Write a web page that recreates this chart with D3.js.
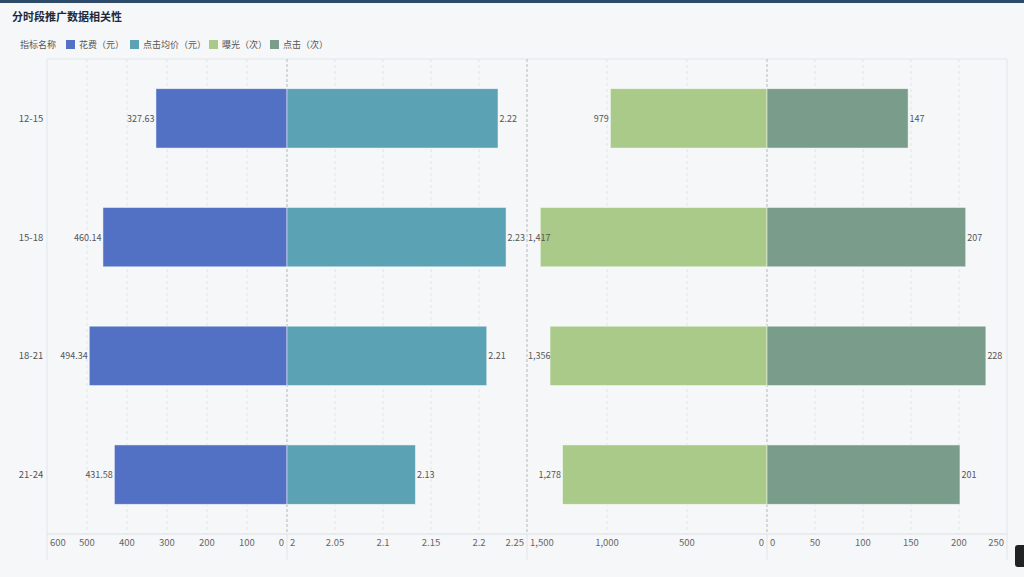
<!DOCTYPE html>
<html><head><meta charset="utf-8">
<script src="https://cdn.jsdelivr.net/npm/d3@7/dist/d3.min.js"></script>
<style>
html,body{margin:0;padding:0;background:#f6f7f9;}
svg{display:block;font-family:"Noto Sans CJK SC","Noto Sans",sans-serif;}
</style></head>
<body><svg id="c" width="1024" height="577"></svg>
<script>
const categories = ["12-15","15-18","18-21","21-24"];
const spend = [327.63, 460.14, 494.34, 431.58];
const avgPrice = [2.2198, 2.2282, 2.2081, 2.1338];
const exposure = [979, 1417, 1356, 1278];
const clicks = [147, 207, 228, 201];
const seriesNames = ["花费（元）","点击均价（元）","曝光（次）","点击（次）"];
const colors = ["#5271c4","#5ba2b4","#a9ca88","#7a9d8b"];
const spendTicks = [600,500,400,300,200,100,0];
const priceTicks = [2,2.05,2.1,2.15,2.2,2.25];
const expTicks = [1500,1000,500,0];
const clickTicks = [0,50,100,150,200,250];

(function(){
const svg = d3.select("#c");
svg.append("rect").attr("x",0).attr("y",0).attr("width",1024).attr("height",3).attr("fill","#2e4b69");
svg.append("text").attr("x",12).attr("y",21).attr("font-size",11).attr("font-weight","bold").attr("fill","#1c2a3a").text("分时段推广数据相关性");

const lg = svg.append("g");
lg.append("text").attr("x",20).attr("y",48).attr("font-size",9).attr("fill","#555").text("指标名称");
const legX = [66,130,209,270];
seriesNames.forEach((n,i)=>{
  lg.append("rect").attr("x",legX[i]).attr("y",40).attr("width",9).attr("height",9).attr("fill",colors[i]);
  lg.append("text").attr("x",legX[i]+13).attr("y",48).attr("font-size",9).attr("fill","#555").text(n);
});

const plotTop = 59, plotBottom = 534;
const y = d3.scaleBand().domain(categories).range([plotTop,plotBottom]).paddingInner(0.5).paddingOuter(0.25);

const panels = [
  {data:spend, x:d3.scaleLinear().domain([600,0]).range([47,287]), ticks:spendTicks, fmt:d=>d3.format(".2f")(d), tfmt:d=>d, color:colors[0], base:0},
  {data:avgPrice, x:d3.scaleLinear().domain([2,2.25]).range([287,527]), ticks:priceTicks, fmt:d=>d3.format(".2f")(d), tfmt:d=>d, color:colors[1], base:2},
  {data:exposure, x:d3.scaleLinear().domain([1500,0]).range([527,767]), ticks:expTicks, fmt:d=>d3.format(",")(d), tfmt:d=>d3.format(",")(d), color:colors[2], base:0},
  {data:clicks, x:d3.scaleLinear().domain([0,250]).range([767,1007]), ticks:clickTicks, fmt:d=>d, tfmt:d=>d, color:colors[3], base:0}
];

svg.append("line").attr("x1",47).attr("x2",1007).attr("y1",plotTop).attr("y2",plotTop).attr("stroke","#e3e6ea");
svg.append("line").attr("x1",1007).attr("x2",1007).attr("y1",plotTop).attr("y2",560).attr("stroke","#e3e6ea");
svg.append("line").attr("x1",47).attr("x2",47).attr("y1",plotTop).attr("y2",560).attr("stroke","#e3e6ea");

panels.forEach(p=>{
  p.ticks.forEach(t=>{
    const xx = p.x(t);
    if (Math.abs(xx-47)<1 || Math.abs(xx-1007)<1) return;
    if ([287,527,767].some(s=>Math.abs(s-xx)<1)) return;
    svg.append("line").attr("x1",xx).attr("x2",xx).attr("y1",plotTop).attr("y2",plotBottom)
      .attr("stroke","#e2e4e8").attr("stroke-dasharray","3,3");
  });
});
[287,527,767].forEach(s=>{
  svg.append("line").attr("x1",s).attr("x2",s).attr("y1",plotTop).attr("y2",plotBottom)
    .attr("stroke","#b5b8bd").attr("stroke-dasharray","3,2");
  svg.append("line").attr("x1",s).attr("x2",s).attr("y1",plotBottom).attr("y2",560).attr("stroke","#e3e6ea");
});
svg.append("line").attr("x1",47).attr("x2",1007).attr("y1",plotBottom).attr("y2",plotBottom).attr("stroke","#dcdfe3");

const barLayer = svg.append("g"), labelLayer = svg.append("g");
panels.forEach(p=>{
  const b0 = p.x(p.base);
  const r = p.x.range();
  const lo = Math.min(...r), hi = Math.max(...r);
  categories.forEach((c,i)=>{
    const v = p.data[i], xv = p.x(v);
    barLayer.append("rect").attr("x",Math.min(b0,xv)).attr("y",y(c)).attr("width",Math.abs(xv-b0)).attr("height",y.bandwidth())
      .attr("fill",p.color).attr("stroke","rgba(255,255,255,0.6)").attr("stroke-width",0.8);
    const left = xv < b0;
    const t = labelLayer.append("text").attr("x", left ? xv-1.5 : xv+1.5).attr("y", y(c)+y.bandwidth()/2+3.5)
      .attr("text-anchor", left ? "end":"start").attr("font-size",9).attr("fill","#555").text(p.fmt(v));
    const w = t.node().getComputedTextLength();
    if (left && xv-1.5-w < lo+1) t.attr("text-anchor","start").attr("x", lo+1);
    if (!left && xv+1.5+w > hi) t.attr("text-anchor","end").attr("x", hi-1);
  });
  p.ticks.forEach(t=>{
    const xx = p.x(t);
    let anchor = "middle", tx = xx;
    if (Math.abs(xx-lo)<1) { anchor="start"; tx = xx+3; }
    else if (Math.abs(xx-hi)<1) { anchor="end"; tx = xx-3; }
    svg.append("text").attr("x",tx).attr("y",546).attr("text-anchor",anchor)
      .attr("font-size",9.5).attr("fill","#666").text(p.tfmt(t));
  });
});

categories.forEach(c=>{
  svg.append("text").attr("x",31).attr("y",y(c)+y.bandwidth()/2+3.5).attr("text-anchor","middle")
    .attr("font-size",9.5).attr("fill","#555").text(c);
});

svg.append("rect").attr("x",1015).attr("y",545).attr("width",14).attr("height",22).attr("rx",3).attr("fill","#222");
})();
</script></body></html>
